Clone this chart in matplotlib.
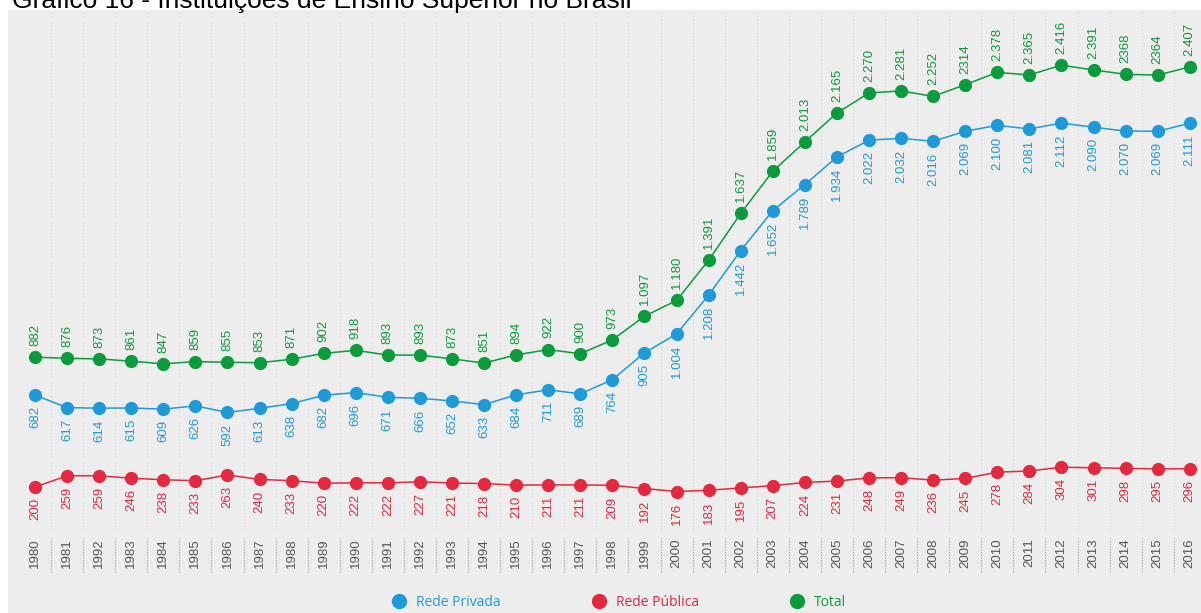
import matplotlib
matplotlib.use("Agg")
import matplotlib.pyplot as plt
from matplotlib.lines import Line2D

years = ["1980", "1981", "1992", "1983", "1984", "1985", "1986", "1987", "1988", "1989",
         "1990", "1991", "1992", "1993", "1994", "1995", "1996", "1997", "1998", "1999",
         "2000", "2001", "2002", "2003", "2004", "2005", "2006", "2007", "2008", "2009",
         "2010", "2011", "2012", "2013", "2014", "2015", "2016"]

total = [882, 876, 873, 861, 847, 859, 855, 853, 871, 902, 918, 893, 893, 873, 851, 894,
         922, 900, 973, 1097, 1180, 1391, 1637, 1859, 2013, 2165, 2270, 2281, 2252, 2314,
         2378, 2365, 2416, 2391, 2368, 2364, 2407]
privada = [682, 617, 614, 615, 609, 626, 592, 613, 638, 682, 696, 671, 666, 652, 633, 684,
           711, 689, 764, 905, 1004, 1208, 1442, 1652, 1789, 1934, 2022, 2032, 2016, 2069,
           2100, 2081, 2112, 2090, 2070, 2069, 2111]
publica = [200, 259, 259, 246, 238, 233, 263, 240, 233, 220, 222, 222, 227, 221, 218, 210,
           211, 211, 209, 192, 176, 183, 195, 207, 224, 231, 248, 249, 236, 245, 278, 284,
           304, 301, 298, 295, 296]
# labels printed without the thousands dot in the original
total_no_dot = {"2009", "2014", "2015"}

BLUE = "#1f9ad8"
RED = "#e3283f"
GREEN = "#0b9a3c"
LABEL_FONT = "Liberation Sans"


def fmt(v, plain=False):
    s = f"{v:,}"
    return s.replace(",", "") if plain else s.replace(",", ".")


fig = plt.figure(figsize=(12.01, 6.13), dpi=100)
fig.patch.set_facecolor("white")
ax = fig.add_axes([8 / 1201, 0, 1193 / 1201, 603 / 613])
ax.set_facecolor("#ededed")
for s in ax.spines.values():
    s.set_visible(False)
ax.set_xticks([])
ax.set_yticks([])
ax.set_xlim(-0.842, 36.35)
ax.set_ylim(-462, 2706)

x = list(range(len(years)))
mids = [i + 0.5 for i in x[:-1]]
xt = ax.get_xaxis_transform()
ax.vlines(mids, 0.138, 1, transform=xt, colors="#d6d6d6", linestyles=(0, (1, 2)), linewidth=0.8)
ax.vlines(mids, 0.068, 0.125, transform=xt, colors="#9a9a9a", linestyles=(0, (1, 1.5)), linewidth=0.8)

ax.plot(x, publica, color=RED, lw=1.1, marker="o", ms=8.5, zorder=3)
ax.plot(x, privada, color=BLUE, lw=1.1, marker="o", ms=8.5, zorder=3)
ax.plot(x, total, color=GREEN, lw=1.1, marker="o", ms=8.5, zorder=3)

lab = dict(rotation=90, ha="center", fontsize=9.5, family=LABEL_FONT, textcoords="offset points")
for i, yr in enumerate(years):
    ax.annotate(fmt(total[i], yr in total_no_dot and i > 20), (i, total[i]), xytext=(0, 8),
                va="bottom", color=GREEN, **lab)
    ax.annotate(fmt(privada[i]), (i, privada[i]), xytext=(0, -8), va="top", color=BLUE, **lab)
    ax.annotate(fmt(publica[i]), (i, publica[i]), xytext=(0, -8), va="top", color=RED, **lab)
    ax.text(i, 0.0995, yr, transform=xt, rotation=90, ha="center", va="center",
            fontsize=9.5, family=LABEL_FONT, color="#555555")

handles = [Line2D([], [], ls="", marker="o", ms=10, color=c) for c in (BLUE, RED, GREEN)]
fig.legend(handles, ["Rede Privada", "Rede Pública", "Total"], loc="center",
           bbox_to_anchor=(0.515, 1 - 602 / 613), ncol=3, frameon=False,
           labelcolor=[BLUE, RED, GREEN], prop={"family": "Open Sans", "size": 10},
           handletextpad=0.6, columnspacing=6.5, handlelength=1.2)

fig.text(12 / 1201, 1 - 8 / 613, "Gráfico 16 - Instituições de Ensino Superior no Brasil",
         va="baseline", ha="left", fontsize=19, family="Liberation Sans", color="black")

fig.savefig("out.png", dpi=100)
